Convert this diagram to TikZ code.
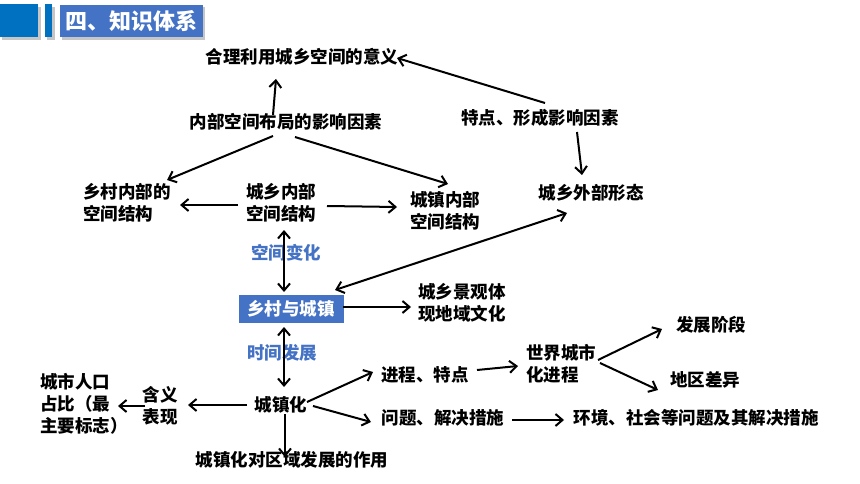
\documentclass[tikz,border=0pt]{standalone}
\usepackage{fontspec}
\newfontfamily\cjk{Noto Sans CJK SC}
\usetikzlibrary{arrows.meta,calc}
\definecolor{hdrblue}{RGB}{0,112,192}
\definecolor{boxblue}{RGB}{68,114,196}
\begin{document}
\begin{tikzpicture}[x=1pt,y=-1pt,
  txt/.style={inner sep=0pt,font=\cjk\bfseries\fontsize{17.5}{22}\selectfont,align=left},
  lbl/.style={txt,text=boxblue},
  tip/.tip={Straight Barb[length=7pt,width=12pt,line width=2pt]},
  arr/.style={line width=2pt,-tip},
  darr/.style={line width=2pt,tip-tip}
]
\useasboundingbox (0,0) rectangle (860,484);
\fill[white] (0,0) rectangle (860,484);
% header
\fill[gray!45] (2,7) rectangle (41,40);
\fill[gray!45] (47,7) rectangle (55,40);
\fill[gray!45] (62,7) rectangle (205,40);
\fill[hdrblue] (0,4) rectangle (38,37);
\fill[hdrblue] (45,4) rectangle (52,37);
\node[fill=boxblue,minimum width=143pt,minimum height=32pt,inner sep=0pt,anchor=north west,text=white,font=\cjk\bfseries\fontsize{22}{24}\selectfont] (hdr) at (60,5) {四、知识体系};
% nodes
\node[txt] (M) at (302,57) {合理利用城乡空间的意义};
\node[txt] (I) at (286,122) {内部空间布局的影响因素};
\node[txt] (F) at (540,118) {特点、形成影响因素};
\node[txt] (E) at (591,193) {城乡外部形态};
\node[txt] (R) at (127,203) {乡村内部的\\空间结构};
\node[txt] (U) at (281,203) {城乡内部\\空间结构};
\node[txt] (T) at (445,211) {城镇内部\\空间结构};
\node[lbl] (sp) at (286,253) {空间变化};
\node[fill=boxblue,text=white,inner sep=0pt,minimum width=105pt,minimum height=28pt,font=\cjk\bfseries\fontsize{17.5}{22}\selectfont] (V) at (291,309) {乡村与城镇};
\node[txt] (L) at (462,303) {城乡景观体\\现地域文化};
\node[lbl] (tm) at (282,353) {时间发展};
\node[txt] (Z) at (281,405) {城镇化};
\node[txt] (P) at (425,375) {进程、特点};
\node[txt] (Q) at (443,418) {问题、解决措施};
\node[txt] (H) at (160,406) {含义\\表现};
\node[txt] (O) at (84,404) {城市人口\\占比（最\\主要标志）};
\node[txt] (W) at (292,460) {城镇化对区域发展的作用};
\node[txt] (Wd) at (561,364) {世界城市\\化进程};
\node[txt] (S) at (711,325) {发展阶段};
\node[txt] (G) at (705,380) {地区差异};
\node[txt] (N) at (696,418) {环境、社会等问题及其解决措施};
% connectors
\draw[arr] ($(I)+(-13,-7)$) -- ($(M)+(-26,22)$);
\draw[arr] ($(F)+(5,-15)$) -- ($(M)+(95,1)$);
\draw[arr] ($(F)+(37,14)$) -- ($(E)+(-9,-18)$);
\draw[arr] ($(I)+(-13,14)$) -- ($(R)+(40,-23)$);
\draw[arr] ($(I)+(9,15)$) -- ($(T)+(3,-27)$);
\draw[arr] ($(U)+(-43,2)$) -- ($(R)+(53,2)$);
\draw[arr] ($(U)+(46,3)$) -- ($(T)+(-48,-4)$);
\draw[darr] ($(U)+(3,27)$) -- ($(V)+(-7,-17)$);
\draw[arr] ($(V)+(52,-2)$) -- ($(L)+(-51,4)$);
\draw[darr] ($(E)+(-24,20)$) -- ($(V)+(44,-19)$);
\draw[darr] ($(V)+(-7,18)$) -- ($(Z)+(3,-18)$);
\draw[arr] ($(Z)+(26,-3)$) -- ($(P)+(-52,-3)$);
\draw[arr] ($(Z)+(32,1)$) -- ($(Q)+(-72,4)$);
\draw[arr] ($(Z)+(-34,0)$) -- ($(H)+(28,-1)$);
\draw[arr] ($(H)+(-15,0)$) -- ($(O)+(34,2)$);
\draw[arr] ($(Z)+(4,9)$) -- ($(W)+(-7,-3)$);
\draw[arr] ($(P)+(52,-5)$) -- ($(Wd)+(-43,2)$);
\draw[arr] ($(Wd)+(37,-4)$) -- ($(S)+(-49,4)$);
\draw[arr] ($(Wd)+(39,-1)$) -- ($(G)+(-47,10)$);
\draw[arr] ($(Q)+(69,2)$) -- ($(N)+(-132,2)$);
\end{tikzpicture}
\end{document}
